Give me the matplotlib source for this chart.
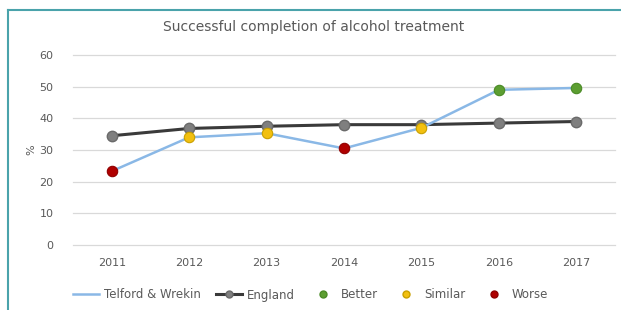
import matplotlib.pyplot as plt
from matplotlib.lines import Line2D

years = ["2011", "2012", "2013", "2014", "2015", "2016", "2017"]
telford = [23.3, 34.0, 35.3, 30.5, 37.0, 49.0, 49.6]
england = [34.5, 36.8, 37.5, 38.0, 38.0, 38.5, 39.0]
# comparison with England for each year
rating = ["Worse", "Similar", "Similar", "Worse", "Similar", "Better", "Better"]

rating_colours = {"Better": "#5c9e31", "Similar": "#f2c010", "Worse": "#b00000"}
edge_colours = {"Better": "#4a8a25", "Similar": "#c9a000", "Worse": "#900000"}
text_grey = "#595959"

fig = plt.figure(figsize=(6.21, 3.10), dpi=100)
ax = fig.add_axes([73 / 621, 1 - 245 / 310, (615 - 73) / 621, (245 - 55) / 310])

x = list(range(len(years)))
ax.plot(x, england, color="#3a3a3a", lw=2.2, marker="o", ms=7.5,
        mfc="#7f7f7f", mec="#6a6a6a", zorder=2)
ax.plot(x, telford, color="#8ab8e6", lw=1.8, zorder=3)
for xi, v, r in zip(x, telford, rating):
    ax.plot(xi, v, marker="o", ms=7.5, mfc=rating_colours[r],
            mec=edge_colours[r], mew=0.8, zorder=4)

ax.set_xlim(-0.5, 6.5)
ax.set_ylim(0, 60)
ax.set_yticks(range(0, 61, 10))
ax.set_xticks(x)
ax.set_xticklabels(years)
ax.grid(axis="y", color="#d9d9d9", lw=0.9)
for gl in ax.get_ygridlines():
    gl.set_clip_on(False)
ax.set_axisbelow(True)
for s in ax.spines.values():
    s.set_visible(False)
ax.tick_params(length=0, labelsize=8, colors=text_grey, pad=9)
ax.tick_params(axis="y", pad=14)
ax.set_ylabel("%", fontsize=8, color=text_grey, labelpad=2)

fig.text(0.505, 1 - 27 / 310, "Successful completion of alcohol treatment",
         ha="center", va="center", fontsize=10, color=text_grey)

handles = [
    Line2D([], [], color="#8ab8e6", lw=1.8),
    Line2D([], [], color="#3a3a3a", lw=2.2, marker="o", ms=5,
           mfc="#7f7f7f", mec="#6a6a6a"),
    Line2D([], [], ls="", marker="o", ms=5, mfc=rating_colours["Better"],
           mec=edge_colours["Better"]),
    Line2D([], [], ls="", marker="o", ms=5, mfc=rating_colours["Similar"],
           mec=edge_colours["Similar"]),
    Line2D([], [], ls="", marker="o", ms=5, mfc=rating_colours["Worse"],
           mec=edge_colours["Worse"]),
]
labels = ["Telford & Wrekin", "England", "Better", "Similar", "Worse"]
fig.legend(handles, labels, loc="center", bbox_to_anchor=(0.5, 1 - 295 / 310),
           ncol=5, frameon=False, fontsize=8.5, labelcolor=text_grey,
           handlelength=2.2, columnspacing=1.3, handletextpad=0.4)

# teal frame on the left and top
frame = "#4aa3ab"
fig.add_artist(Line2D([8 / 621, 8 / 621], [0, 1 - 10 / 310], color=frame, lw=1.5,
                      transform=fig.transFigure))
fig.add_artist(Line2D([8 / 621, 1], [1 - 10 / 310, 1 - 10 / 310], color=frame, lw=1.5,
                      transform=fig.transFigure))

fig.savefig("out.png", dpi=100)
